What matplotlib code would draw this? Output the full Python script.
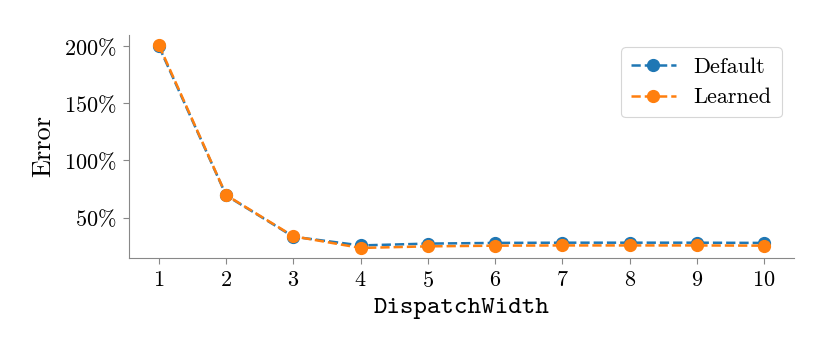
import matplotlib
matplotlib.use("Agg")
import matplotlib.pyplot as plt
from matplotlib.ticker import FuncFormatter, FixedLocator

plt.rcParams['font.family'] = ['cmr10', 'DejaVu Serif']
plt.rcParams['mathtext.fontset'] = 'cm'
plt.rcParams['axes.unicode_minus'] = False
plt.rcParams['axes.formatter.use_mathtext'] = True

dispatch_width = [1, 2, 3, 4, 5, 6, 7, 8, 9, 10]
default_err = [199.5, 69.3, 33.2, 25.6, 27.2, 27.8, 28.0, 28.0, 28.0, 27.8]
learned_err = [200.7, 69.6, 33.6, 23.4, 24.8, 25.4, 25.6, 25.6, 25.6, 25.4]
y_ticks = [50, 100, 150, 200]

fig = plt.figure(figsize=(8.3, 3.56), dpi=100)
ax = fig.add_axes([0.155, 0.275, 0.802, 0.627])

ax.plot(dispatch_width, default_err, '--o', color='#1f77b4', lw=1.8, ms=8.5, label='Default')
ax.plot(dispatch_width, learned_err, '--o', color='#ff7f0e', lw=1.8, ms=8.5, label='Learned')

ax.set_xticks(dispatch_width)
ax.xaxis.set_major_formatter(FuncFormatter(lambda v, p: r'$%d$' % v))
ax.yaxis.set_major_locator(FixedLocator(y_ticks))
ax.yaxis.set_major_formatter(FuncFormatter(lambda v, p: r'$%d\%%$' % v))

for s in ['top', 'right']:
    ax.spines[s].set_visible(False)
for s in ['left', 'bottom']:
    ax.spines[s].set_color('#888888')
    ax.spines[s].set_linewidth(0.8)
ax.tick_params(colors='#888888', labelcolor='black', labelsize=16, length=4, width=0.8, pad=5)

ax.set_ylabel('Error', fontsize=19, labelpad=6)
ax.set_xlabel('DispatchWidth', fontsize=18.5, family='cmtt10', labelpad=5)

leg = ax.legend(loc='upper right', fontsize=16, frameon=True, fancybox=True,
                edgecolor='#cccccc', borderpad=0.45, handlelength=2.0,
                bbox_to_anchor=(0.9975, 0.995))
leg.get_frame().set_linewidth(0.8)

fig.savefig('out.png', dpi=100)
